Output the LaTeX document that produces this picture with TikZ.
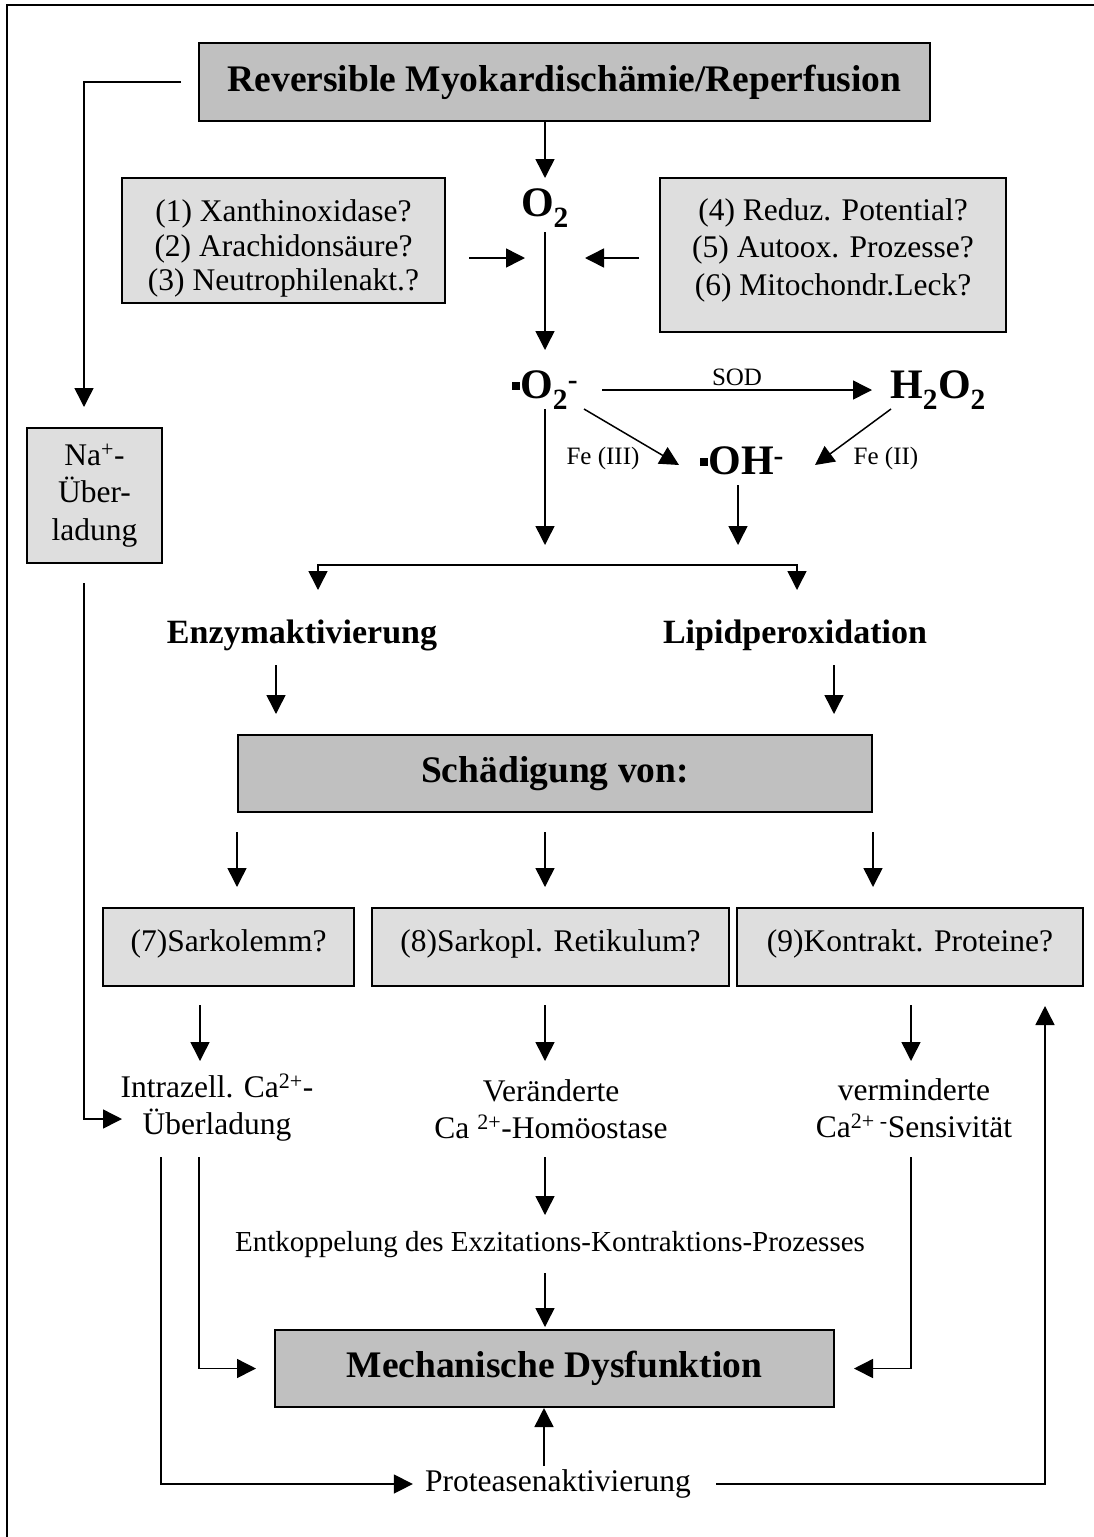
\documentclass[tikz,border=0pt]{standalone}
\usepackage{fontspec}
\setmainfont{Liberation Serif}
\usepackage{tikz}
\usetikzlibrary{arrows.meta}
\usepackage{xcolor}
\definecolor{grisfonce}{HTML}{C0C0C0}
\definecolor{grisclair}{HTML}{DEDEDE}

% petit carré du radical
\newcommand{\radpt}{\raisebox{0.2em}{\rule{0.2em}{0.2em}}}
% texte de boîte décalé verticalement
\newcommand{\decale}[2]{\raisebox{#1}[\height][\depth]{\begin{tabular}{@{}c@{}}#2\end{tabular}}}

\tikzset{
  fleche/.style={-{Triangle[length=19pt,width=19pt]}, line width=1.5pt},
  flechedouble/.style={{Triangle[length=19pt,width=19pt]}-{Triangle[length=19pt,width=19pt]}, line width=1.5pt},
  boitefonce/.style={draw, line width=2pt, fill=grisfonce, inner sep=0pt, font=\fontsize{37.5}{44}\selectfont\bfseries},
  boiteclaire/.style={draw, line width=2pt, fill=grisclair, inner sep=0pt, align=center, font=\fontsize{31.5}{36}\selectfont},
  texte/.style={inner sep=0pt, align=center, font=\fontsize{31.5}{37}\selectfont},
  titre/.style={inner sep=0pt, font=\fontsize{34}{40}\selectfont\bfseries},
  formule/.style={inner sep=0pt, font=\fontsize{42}{48}\selectfont\bfseries},
  petit/.style={inner sep=0pt, font=\fontsize{25}{29}\selectfont}
}

\begin{document}
\begin{tikzpicture}[x=1pt, y=-1pt]
\useasboundingbox (0,0) rectangle (1094,1537);

% Cadre
\draw[line width=1.5pt] (7,1537) -- (7,5) -- (1094,5);

% Boîtes du haut
\node[boitefonce, minimum width=731pt, minimum height=78pt] (repf) at (564.5,82) {Reversible Myokardischämie/Reperfusion};
\node[formule] (otwo) at (545,208) {O\textsubscript{2}};
\node[boiteclaire, minimum width=323pt, minimum height=125pt, font=\fontsize{31.5}{34.5}\selectfont] (quelleA) at (283.5,240.5) {\decale{-9pt}{(1) Xanthinoxidase?\\(2) Arachidonsäure?\\(3) Neutrophilenakt.?}};
\node[boiteclaire, minimum width=346pt, minimum height=154pt, font=\fontsize{31.5}{37.5}\selectfont] (quelleB) at (833,255) {\decale{5pt}{(4) Reduz. Potential?\\(5) Autoox. Prozesse?\\(6) Mitochondr.Leck?}};
\node[boiteclaire, minimum width=135pt, minimum height=135pt, font=\fontsize{31.5}{37.5}\selectfont] (na) at (94.5,495.5) {Na\textsuperscript{+}-\\Über-\\ladung};
\coordinate (entreeA) at (525,258);
\coordinate (entreeB) at (585,258);

% Radicaux
\node[formule] (osup) at (545,390) {\radpt O\textsubscript{2}\textsuperscript{-}};
\node[formule] (hoo) at (938,390) {H\textsubscript{2}O\textsubscript{2}};
\node[formule] (oh) at (742,461) {\radpt OH\textsuperscript{-}};
\node[petit] (fe3) at (603,458) {Fe (III)};
\node[petit] (fe2) at (886,458) {Fe (II)};
\coordinate (brancheG) at (318,565);
\coordinate (brancheD) at (797,565);

% Milieu
\node[titre] (enz) at (302,635) {Enzymaktivierung};
\node[titre] (lip) at (795,635) {Lipidperoxidation};
\node[boitefonce, minimum width=634pt, minimum height=77pt] (schad) at (555,773.5) {Schädigung von:};
\node[boiteclaire, minimum width=251pt, minimum height=78pt] (sarko) at (228.5,947) {\decale{3pt}{(7)Sarkolemm?}};
\node[boiteclaire, minimum width=357pt, minimum height=78pt] (retik) at (550.5,947) {\decale{3pt}{(8)Sarkopl. Retikulum?}};
\node[boiteclaire, minimum width=346pt, minimum height=78pt] (kontr) at (910,947) {\decale{3pt}{(9)Kontrakt. Proteine?}};

% Bas
\node[texte] (calc) at (217,1108) {Intrazell. Ca\textsuperscript{2+}-\\Überladung};
\node[texte] (homoo) at (551,1109) {Veränderte\\Ca \textsuperscript{2+}-Homöostase};
\node[texte] (sensi) at (914,1108) {verminderte\\Ca\textsuperscript{2+ -}Sensivität};
\node[texte, font=\fontsize{29}{34}\selectfont] (entk) at (550,1245) {Entkoppelung des Exzitations-Kontraktions-Prozesses};
\node[boitefonce, minimum width=559pt, minimum height=77pt] (dysf) at (554.5,1368.5) {Mechanische Dysfunktion};
\node[texte] (prot) at (558,1484) {Proteasenaktivierung};

% Flèches du haut
\draw[fleche, shorten <=17pt] (repf.west) -| ([xshift=-10.5pt, yshift=20pt]na.north);
\draw[fleche] (repf.south -| otwo) -- ([yshift=30pt]otwo.center);
\draw[fleche, shorten <=23pt] (quelleA.east |- entreeA) -- (entreeA);
\draw[fleche, shorten <=20pt] (quelleB.west |- entreeB) -- (entreeB);
\draw[fleche] ([yshift=-24pt]otwo.center) -- ([yshift=40pt]osup.center);

% Flèches des radicaux
\draw[fleche] ([xshift=57pt]osup.center) -- ([xshift=-66pt]hoo.center) node[petit, midway, above=4pt] (sod) {SOD};
\draw[fleche] ([xshift=39pt, yshift=-19pt]osup.center) -- ([xshift=-63pt, yshift=-4pt]oh.center);
\draw[fleche] ([xshift=-47pt, yshift=-19pt]hoo.center) -- ([xshift=73pt, yshift=-4pt]oh.center);
\draw[fleche] ([yshift=-19pt]osup.center) -- ([yshift=20pt]osup.center |- brancheG);
\draw[fleche] ([xshift=-4pt, yshift=-24pt]oh.center) -- ([xshift=-4pt, yshift=20pt]oh.center |- brancheD);
\draw[flechedouble] ([yshift=-25pt]brancheG) -- (brancheG) -- (brancheD) -- ([yshift=-25pt]brancheD);

% Vers la Schädigung
\draw[fleche, shorten >=20pt] ([xshift=-26pt, yshift=-30pt]enz.center) -- ([xshift=-26pt]enz.center |- schad.north);
\draw[fleche, shorten >=20pt] ([xshift=39pt, yshift=-30pt]lip.center) -- ([xshift=39pt]lip.center |- schad.north);
\draw[fleche, shorten <=19pt, shorten >=20pt] (schad.south west) -- (schad.south west |- sarko.north);
\draw[fleche, shorten <=19pt, shorten >=20pt] ([xshift=-10pt]schad.south) -- ([xshift=-10pt]schad.south |- retik.north);
\draw[fleche, shorten <=19pt, shorten >=20pt] (schad.south east) -- (schad.south east |- kontr.north);

% Vers les conséquences
\draw[fleche, shorten <=18pt, shorten >=47pt] ([xshift=-28.5pt]sarko.south) -- ([xshift=-28.5pt]sarko.south |- calc.center);
\draw[fleche, shorten <=18pt, shorten >=48pt] ([xshift=-5.5pt]retik.south) -- ([xshift=-5.5pt]retik.south |- homoo.center);
\draw[fleche, shorten <=18pt, shorten >=47pt] ([xshift=1pt]kontr.south) -- ([xshift=1pt]kontr.south |- sensi.center);
\draw[fleche, shorten <=19pt] ([xshift=-10.5pt]na.south) |- ([xshift=-95pt, yshift=-11pt]calc.center);

% Vers la dysfonction
\draw[fleche] ([xshift=-56pt, yshift=-49pt]calc.center) |- ([xshift=-12pt]prot.west);
\draw[fleche] ([xshift=-18pt, yshift=-49pt]calc.center) |- ([xshift=-18pt]dysf.west);
\draw[fleche, shorten >=30pt] ([xshift=-6pt, yshift=-48pt]homoo.center) -- ([xshift=-6pt]homoo.center |- entk.center);
\draw[fleche, shorten >=2pt] ([xshift=-5pt, yshift=-28pt]entk.center) -- ([xshift=-5pt]entk.center |- dysf.north);
\draw[fleche] ([xshift=-3pt, yshift=-49pt]sensi.center) |- ([xshift=19pt]dysf.east);
\draw[fleche] ([xshift=-14pt, yshift=18pt]prot.center) -- ([xshift=-14pt]prot.center |- dysf.south);
\draw[fleche] ([xshift=25pt]prot.east) -| ([xshift=-39pt, yshift=-19pt]kontr.south east);

\end{tikzpicture}
\end{document}
